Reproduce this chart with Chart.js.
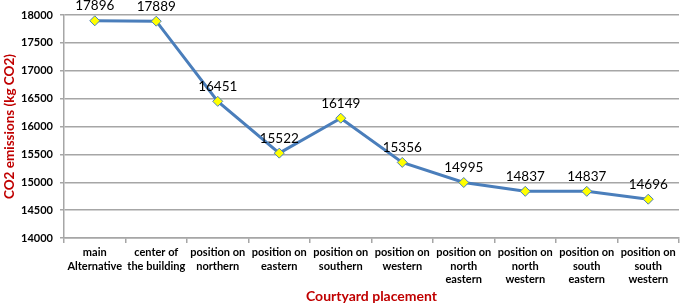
<!DOCTYPE html>
<html lang="en">
<head>
  <meta charset="UTF-8">
  <title>CO2 emissions by courtyard placement</title>
  <style>
    body { margin: 0; background: #fff; }
    #wrap { width: 685px; height: 305px; }
  </style>
</head>
<body>
<div id="wrap"><canvas id="co2Chart" width="685" height="305"></canvas></div>

<script src="https://cdn.jsdelivr.net/npm/chart.js"></script>
<script>
  // categories (multi-line tick labels)
  const placements = [
    ['main', 'Alternative'],
    ['center of', 'the building'],
    ['position on', 'northern'],
    ['position on', 'eastern'],
    ['position on', 'southern'],
    ['position on', 'western'],
    ['position on', 'north', 'eastern'],
    ['position on', 'north', 'western'],
    ['position on', 'south', 'eastern'],
    ['position on', 'south', 'western']
  ];
  const emissions = [17896, 17889, 16451, 15522, 16149, 15356, 14995, 14837, 14837, 14696];
  const yTicks = [14000, 14500, 15000, 15500, 16000, 16500, 17000, 17500, 18000];

  const red = '#c00000';
  const blue = '#4a7ebb';
  const gridGray = '#a6a6a6';

  // simple value labels above each point
  const valueLabels = {
    id: 'valueLabels',
    afterDatasetsDraw(chart) {
      const ctx = chart.ctx;
      const meta = chart.getDatasetMeta(0);
      ctx.save();
      ctx.font = '13.5px Lato, sans-serif';
      ctx.fillStyle = '#000';
      ctx.textAlign = 'center';
      ctx.textBaseline = 'bottom';
      meta.data.forEach((pt, i) => {
        ctx.fillText(String(emissions[i]), pt.x, pt.y - 8);
      });
      ctx.restore();
    }
  };

  const ctx = document.getElementById('co2Chart').getContext('2d');
  new Chart(ctx, {
    type: 'line',
    data: {
      labels: placements,
      datasets: [{
        data: emissions,
        borderColor: blue,
        borderWidth: 3,
        fill: false,
        tension: 0,
        pointStyle: 'rectRot',
        pointRadius: 5,
        pointBackgroundColor: '#ffff00',
        pointBorderColor: blue,
        pointBorderWidth: 1
      }]
    },
    options: {
      responsive: false,
      animation: false,
      layout: { padding: { top: 15, right: 1, bottom: 0, left: 0 } },
      plugins: {
        legend: { display: false },
        tooltip: { enabled: false }
      },
      scales: {
        x: {
          offset: true,
          grid: { display: true, drawOnChartArea: false, offset: true, tickLength: 5, color: gridGray, lineWidth: 1.5 },
          border: { color: gridGray, width: 1.5 },
          ticks: {
            autoSkip: false, maxRotation: 0, minRotation: 0, padding: 2,
            color: '#000',
            font: { family: 'Lato, sans-serif', size: 11, weight: 'bold', lineHeight: 1.27 }
          },
          title: {
            display: true, text: 'Courtyard placement', color: red,
            font: { family: 'Lato, sans-serif', size: 14, weight: 'bold' },
            padding: { top: 0, bottom: 0 }
          },
          afterFit(scale) { scale.height = 67; }
        },
        y: {
          min: 14000, max: 18000,
          afterBuildTicks(scale) { scale.ticks = yTicks.map(v => ({ value: v })); },
          grid: { color: gridGray, lineWidth: 1.5, tickLength: 4 },
          border: { color: gridGray, width: 1.5 },
          ticks: {
            padding: 7, color: '#000',
            font: { family: 'Lato, sans-serif', size: 11, weight: 'bold' },
            callback: v => String(v)
          },
          title: {
            display: true, text: 'CO2 emissions (kg CO2)', color: red,
            font: { family: 'Lato, sans-serif', size: 13.5, weight: 'bold' },
            padding: { top: 2, bottom: 0 }
          },
          afterFit(scale) { scale.width = 64; }
        }
      }
    },
    plugins: [valueLabels]
  });
</script>
</body>
</html>
